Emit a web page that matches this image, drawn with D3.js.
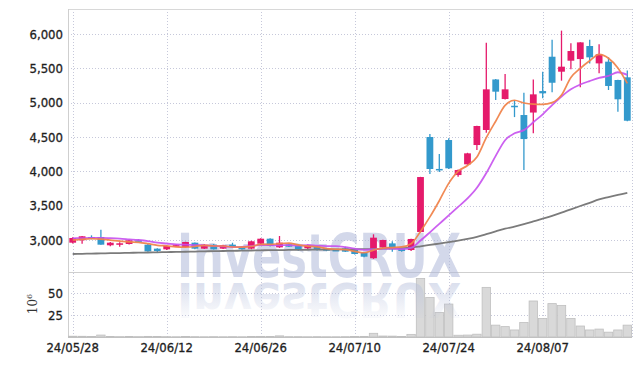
<!DOCTYPE html>
<html>
<head>
<meta charset="utf-8">
<script src="https://cdn.jsdelivr.net/npm/d3@7"></script>
<style>
  body { margin: 0; background: #fff; }
  .axis text { font-family: "DejaVu Sans Condensed", "DejaVu Sans", sans-serif; font-stretch: condensed; font-size: 13px; fill: #1e1e1e; stroke: #1e1e1e; stroke-width: 0.3px; }
  .axis path, .axis line { display: none; }
</style>
</head>
<body>
<svg id="chart" width="642" height="366"></svg>
<script>
// trading days shown
var dates = ["24/05/28","24/05/29","24/05/30","24/05/31","24/06/03","24/06/04","24/06/05","24/06/07","24/06/10","24/06/11",
  "24/06/12","24/06/13","24/06/14","24/06/17","24/06/18","24/06/19","24/06/20","24/06/21","24/06/24","24/06/25",
  "24/06/26","24/06/27","24/06/28","24/07/01","24/07/02","24/07/03","24/07/04","24/07/05","24/07/08","24/07/09",
  "24/07/10","24/07/11","24/07/12","24/07/15","24/07/16","24/07/17","24/07/18","24/07/19","24/07/22","24/07/23",
  "24/07/24","24/07/25","24/07/26","24/07/29","24/07/30","24/07/31","24/08/01","24/08/02","24/08/05","24/08/06",
  "24/08/07","24/08/08","24/08/09","24/08/12","24/08/13","24/08/14","24/08/16","24/08/19","24/08/20","24/08/21"];

var opens = [2961,2996,3044,3044,2923,2932,2942,2995,2932,2874,
  2864,2915,2898,2961,2874,2932,2874,2932,2898,2874,
  2946,3019,2893,2937,2913,2879,2903,2879,2855,2879,
  2854,2815,2734,2893,2951,2879,2854,3116,4500,4035,
  4456,3946,4102,4383,4602,5338,5053,4955,4820,4856,
  5169,5669,5451,5611,5635,5825,5572,5597,5330,5369];
var highs = [3040,3060,3068,3150,2970,2967,3005,3010,2940,2880,
  2920,2935,2975,2965,2940,2940,2930,2960,2905,2990,
  3025,3025,3058,2950,2920,2935,2910,2885,2862,2900,
  2860,2820,3083,3005,2980,2885,3020,3920,4543,4252,
  4480,4025,4270,4665,5873,5345,5417,5038,5145,5339,
  5450,5915,6049,5864,5880,5915,5849,5660,5335,5467];
var lows = [2950,2946,3010,2930,2910,2900,2935,2980,2830,2825,
  2855,2905,2890,2865,2868,2860,2868,2890,2858,2865,
  2940,2905,2885,2898,2845,2870,2848,2838,2838,2825,
  2790,2750,2725,2885,2830,2830,2840,3110,3961,3990,
  4035,3922,4095,4310,4562,5038,5045,4790,4019,4553,
  5063,5150,5320,5485,5223,5572,5427,5184,4868,4730];
var closes = [3029,3054,3019,2932,2961,2952,2996,2990,2835,2840,
  2913,2925,2971,2874,2932,2864,2922,2898,2864,2981,
  3019,2913,2961,2903,2854,2927,2854,2844,2845,2830,
  2796,2757,3034,3000,2864,2840,3015,3917,4034,4025,
  4044,4019,4262,4660,5194,5160,5194,4945,4470,5121,
  5136,5290,5524,5752,5878,5660,5704,5243,5049,4737];

// volume, millions of shares
var volumes = [0.9,0.8,0.6,2.2,0.5,0.4,0.5,0.4,0.7,0.5,
  0.4,0.3,0.5,0.4,0.3,0.4,0.3,0.4,0.3,0.6,
  0.7,0.5,1.3,0.4,0.4,0.3,0.4,0.3,0.3,0.4,
  0.6,0.7,4.2,1.1,1.0,0.5,3.0,66.5,45,28,
  37.5,2.0,2.2,3.2,56.5,13.5,11.8,8,16.5,41,
  21,38,36,21,12.5,8,9,5.5,8,13.5];

// moving averages as drawn (5, 10, 60 day)
var ma5 = [3000,3010,3018,3012,2999,2984,2972,2966,2947,2923,
  2915,2901,2897,2905,2923,2913,2913,2898,2896,2906,
  2937,2935,2948,2955,2930,2912,2900,2876,2865,2860,
  2834,2814,2852,2883,2890,2899,2945,3125,3336,3572,
  3825,4000,4085,4208,4490,4730,4960,5035,4995,4978,
  4975,5000,5110,5367,5500,5610,5704,5647,5505,5280];
var ma10 = [3025,3028,3030,3030,3026,3020,3010,3000,2985,2961,
  2949,2936,2932,2926,2923,2914,2907,2897,2900,2914,
  2925,2924,2923,2926,2918,2924,2917,2912,2910,2895,
  2873,2857,2864,2874,2875,2866,2885,2992,3112,3235,
  3358,3482,3605,3760,3975,4225,4453,4554,4600,4715,
  4830,4965,5090,5195,5265,5315,5360,5390,5443,5405];
var ma60 = [2796,2799,2802,2805,2808,2810,2813,2816,2818,2821,
  2824,2827,2829,2832,2835,2837,2840,2842,2845,2847,
  2850,2852,2853,2855,2856,2858,2859,2861,2862,2864,
  2865,2866,2870,2874,2878,2882,2890,2908,2928,2948,
  2968,2990,3015,3045,3085,3125,3165,3195,3230,3270,
  3310,3352,3398,3447,3495,3542,3590,3625,3658,3688];

var priceTicks = [3000,3500,4000,4500,5000,5500,6000];
var volTicks = [25,50];
var dateTicks = ["24/05/28","24/06/12","24/06/26","24/07/10","24/07/24","24/08/07"];

var plotLeft = 68, plotRight = 632, plotTop = 9, plotSplit = 272, plotBottom = 337;
var upColor = "#e51a6b", downColor = "#3399cc";

var svg = d3.select("#chart");

var x = d3.scaleBand().domain(dates).range([plotLeft, plotRight]).padding(0);
var bw = x.bandwidth();
var y = d3.scaleLinear().domain([2534, 6364]).range([plotSplit, plotTop]);
var yv = d3.scaleLinear().domain([0, 74]).range([plotBottom, plotSplit]);

var rows = dates.map(function(d, i) {
  return {date: d, o: opens[i], h: highs[i], l: lows[i], c: closes[i], v: volumes[i]};
});

// grid
var grid = svg.append("g");
grid.selectAll(".hgrid")
  .data(priceTicks)
  .enter().append("line")
    .attr("x1", plotLeft).attr("x2", plotRight)
    .attr("y1", function(d) { return Math.round(y(d)) + 0.5; })
    .attr("y2", function(d) { return Math.round(y(d)) + 0.5; })
    .attr("stroke", "#c6c8da").attr("stroke-dasharray", "1,2");
grid.selectAll(".vgrid-h")
  .data(volTicks)
  .enter().append("line")
    .attr("x1", plotLeft).attr("x2", plotRight)
    .attr("y1", function(d) { return Math.round(yv(d)) + 0.5; })
    .attr("y2", function(d) { return Math.round(yv(d)) + 0.5; })
    .attr("stroke", "#c6c8da").attr("stroke-dasharray", "1,2");
grid.selectAll(".vgrid")
  .data(dateTicks)
  .enter().append("line")
    .attr("x1", function(d) { return Math.round(x(d) + bw / 2) + 0.5; })
    .attr("x2", function(d) { return Math.round(x(d) + bw / 2) + 0.5; })
    .attr("y1", plotTop).attr("y2", plotBottom)
    .attr("stroke", "#c6c8da").attr("stroke-dasharray", "1,2");
grid.append("line")
  .attr("x1", plotRight + 0.5).attr("x2", plotRight + 0.5).attr("y1", plotTop).attr("y2", plotBottom)
  .attr("stroke", "#c6c8da").attr("stroke-dasharray", "1,2");

// frame
grid.append("line").attr("x1", plotLeft).attr("x2", plotRight).attr("y1", plotTop + 0.5).attr("y2", plotTop + 0.5).attr("stroke", "#d8d8d8");
grid.append("line").attr("x1", plotLeft).attr("x2", plotRight).attr("y1", plotSplit + 0.5).attr("y2", plotSplit + 0.5).attr("stroke", "#cfcfcf");
grid.append("line").attr("x1", plotLeft).attr("x2", plotRight).attr("y1", plotBottom + 0.5).attr("y2", plotBottom + 0.5).attr("stroke", "#c4c4c4");
grid.append("line").attr("x1", plotLeft + 0.5).attr("x2", plotLeft + 0.5).attr("y1", plotTop).attr("y2", plotBottom).attr("stroke", "#cfcfcf");

// volume bars
svg.append("g").selectAll("rect")
  .data(rows)
  .enter().append("rect")
    .attr("x", function(d) { return x(d.date) + 0.5; })
    .attr("width", bw - 1)
    .attr("y", function(d) { return yv(d.v); })
    .attr("height", function(d) { return plotBottom - yv(d.v); })
    .attr("fill", "#d9d9d9")
    .attr("stroke", "#bfbfbf")
    .attr("stroke-width", 0.8);

// watermark with a squashed, fading reflection
var defs = svg.append("defs");
var grad = defs.append("linearGradient").attr("id", "fade")
  .attr("gradientUnits", "userSpaceOnUse")
  .attr("x1", 0).attr("x2", 0).attr("y1", 277).attr("y2", 236);
grad.append("stop").attr("offset", 0).attr("stop-color", "#b7c0dc").attr("stop-opacity", 0.5);
grad.append("stop").attr("offset", 1).attr("stop-color", "#b7c0dc").attr("stop-opacity", 0.08);

var wm = svg.append("g")
  .style("font-family", "'DejaVu Sans Condensed', 'DejaVu Sans', sans-serif")
  .style("font-stretch", "condensed")
  .style("font-weight", "bold")
  .style("font-size", "61px");
wm.append("text")
  .attr("x", 177).attr("y", 277)
  .attr("textLength", 284).attr("lengthAdjust", "spacingAndGlyphs")
  .attr("fill", "#aeb8d8").attr("fill-opacity", 0.55)
  .text("InvestCRUX");
wm.append("text")
  .attr("x", 177).attr("y", 277)
  .attr("transform", "translate(0,505) scale(1,-0.8)")
  .attr("textLength", 284).attr("lengthAdjust", "spacingAndGlyphs")
  .attr("fill", "url(#fade)")
  .text("InvestCRUX");

// candles
var candle = svg.append("g").selectAll("g")
  .data(rows)
  .enter().append("g");
candle.append("line")
  .attr("x1", function(d) { return x(d.date) + bw / 2; })
  .attr("x2", function(d) { return x(d.date) + bw / 2; })
  .attr("y1", function(d) { return y(d.h); })
  .attr("y2", function(d) { return y(d.l); })
  .attr("stroke", function(d) { return d.c >= d.o ? upColor : downColor; })
  .attr("stroke-width", 1.3);
candle.append("rect")
  .attr("x", function(d) { return x(d.date) + bw / 2 - 3.4; })
  .attr("width", 6.8)
  .attr("y", function(d) { return y(Math.max(d.o, d.c)); })
  .attr("height", function(d) { return Math.max(1.5, Math.abs(y(d.o) - y(d.c))); })
  .attr("fill", function(d) { return d.c >= d.o ? upColor : downColor; });

// moving average lines
var maLine = d3.line()
  .curve(d3.curveMonotoneX)
  .x(function(d, i) { return x(dates[i]) + bw / 2; })
  .y(function(d) { return y(d); });

svg.append("path").attr("d", maLine(ma60)).attr("fill", "none").attr("stroke", "#7b7b7b").attr("stroke-width", 1.8);
svg.append("path").attr("d", maLine(ma10)).attr("fill", "none").attr("stroke", "#c650ee").attr("stroke-width", 1.8).attr("stroke-opacity", 0.9);
svg.append("path").attr("d", maLine(ma5)).attr("fill", "none").attr("stroke", "#f0844c").attr("stroke-width", 1.7).attr("stroke-opacity", 0.95);

// axes
svg.append("g")
  .attr("class", "axis")
  .attr("transform", "translate(" + plotLeft + ",0)")
  .call(d3.axisLeft(y).tickValues(priceTicks).tickFormat(d3.format(",")).tickSize(0).tickPadding(5));

svg.append("g")
  .attr("class", "axis")
  .attr("transform", "translate(" + plotLeft + ",0)")
  .call(d3.axisLeft(yv).tickValues(volTicks).tickSize(0).tickPadding(5));

svg.append("g")
  .attr("class", "axis")
  .attr("transform", "translate(0," + plotBottom + ")")
  .call(d3.axisBottom(x).tickValues(dateTicks).tickSize(0).tickPadding(6));

// volume unit label
var unit = svg.append("text")
  .attr("transform", "translate(37,304) rotate(-90)")
  .attr("text-anchor", "middle")
  .style("font-family", "'DejaVu Serif', serif")
  .style("font-size", "12px")
  .attr("fill", "#333");
unit.append("tspan").text("10");
unit.append("tspan").attr("dy", -5).style("font-size", "8px").text("6");
</script>
</body>
</html>
